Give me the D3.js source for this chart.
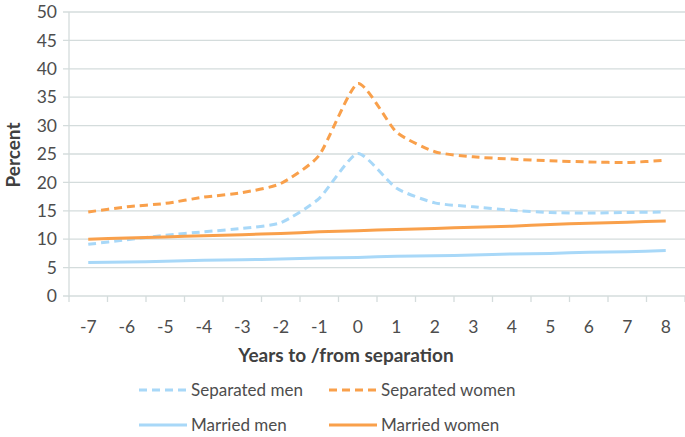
<!DOCTYPE html>
<html><head><meta charset="utf-8">
<script src="https://cdn.jsdelivr.net/npm/d3@7"></script>
<style>body{margin:0;background:#fff}svg{display:block}</style>
</head><body>
<svg id="c" width="685" height="437"></svg>
<script>
const years = [-7,-6,-5,-4,-3,-2,-1,0,1,2,3,4,5,6,7,8];
const separatedMen   = [9.1,9.9,10.7,11.3,11.9,12.9,17.2,25.1,19.0,16.4,15.7,15.1,14.7,14.6,14.7,14.8];
const separatedWomen = [14.8,15.7,16.3,17.4,18.2,19.8,24.8,37.4,28.9,25.4,24.5,24.1,23.8,23.6,23.5,23.9];
const marriedMen     = [5.9,6.0,6.1,6.3,6.4,6.5,6.7,6.8,7.0,7.1,7.2,7.4,7.5,7.7,7.8,8.0];
const marriedWomen   = [10.0,10.2,10.4,10.6,10.8,11.0,11.3,11.5,11.7,11.9,12.1,12.3,12.6,12.8,13.0,13.2];
const yTicks = [0,5,10,15,20,25,30,35,40,45,50];
const seriesNames = ["Separated men","Separated women","Married men","Married women"];

const blue = "#a8d8f8", orange = "#f9a04b", grid = "#d4dcdc", txt = "#4d4d4d";
const series = [
  {name:seriesNames[0], values:separatedMen, color:blue, dash:"8,5"},
  {name:seriesNames[1], values:separatedWomen, color:orange, dash:"8,5"},
  {name:seriesNames[2], values:marriedMen, color:blue, dash:null},
  {name:seriesNames[3], values:marriedWomen, color:orange, dash:null}
];

const svg = d3.select("#c");
const L = 69, R = 685, T = 12, B = 296;
const x = d3.scaleBand().domain(years).range([L, R]);
const y = d3.scaleLinear().domain([0,50]).range([B, T]);
const font = "Lato, 'Open Sans', sans-serif";

svg.append("g").selectAll("line").data(yTicks).join("line")
  .attr("x1", L-6).attr("x2", R).attr("y1", d=>y(d)).attr("y2", d=>y(d))
  .attr("stroke", grid).attr("stroke-width", 1.3);

svg.append("line").attr("x1", L).attr("x2", L).attr("y1", T).attr("y2", B+1)
  .attr("stroke", grid).attr("stroke-width", 1.3);

svg.append("g").selectAll("text").data(yTicks).join("text")
  .attr("x", 57).attr("y", d=>y(d)).attr("dy","0.35em").attr("text-anchor","end")
  .attr("font-family", font).attr("font-size", 17.5).attr("fill", txt).text(d=>d);

const xb = years.map(d=>x(d)).concat([R]);
svg.append("g").selectAll("line").data(xb).join("line")
  .attr("x1", d=>d).attr("x2", d=>d).attr("y1", B).attr("y2", B+6)
  .attr("stroke", grid).attr("stroke-width", 1.3);
svg.append("g").selectAll("text").data(years).join("text")
  .attr("x", d=>x(d)+x.bandwidth()/2).attr("y", 327).attr("dy","0.35em").attr("text-anchor","middle")
  .attr("font-family", font).attr("font-size", 17.5).attr("fill", txt).text(d=>d);

svg.append("text").attr("transform","translate(20,155) rotate(-90)")
  .attr("text-anchor","middle").attr("font-family", font).attr("font-weight","bold")
  .attr("font-size", 19).attr("fill", "#404040").text("Percent");
svg.append("text").attr("x", 346).attr("y", 355).attr("dy","0.35em").attr("text-anchor","middle")
  .attr("font-family", font).attr("font-weight","bold")
  .attr("font-size", 19).attr("fill", "#404040").text("Years to /from separation");

const line = d3.line().x((d,i)=>x(years[i])+x.bandwidth()/2).y(d=>y(d)).curve(d3.curveCardinal.tension(0.4));
svg.append("g").selectAll("path").data(series).join("path")
  .attr("d", d=>line(d.values)).attr("fill","none").attr("stroke", d=>d.color)
  .attr("stroke-width", 3).attr("stroke-dasharray", d=>d.dash);

const legPos = [[139,390],[329,390],[139,425],[329,425]];
const lg = svg.append("g").selectAll("g").data(series).join("g")
  .attr("transform",(d,i)=>`translate(${legPos[i][0]},${legPos[i][1]})`);
lg.append("line").attr("x1",0).attr("x2",48).attr("y1",0).attr("y2",0)
  .attr("stroke", d=>d.color).attr("stroke-width",3).attr("stroke-dasharray", d=>d.dash);
lg.append("text").attr("x",52).attr("y",0).attr("dy","0.35em")
  .attr("font-family", font).attr("font-size", 17).attr("fill", txt).text(d=>d.name);
</script>
</body></html>
